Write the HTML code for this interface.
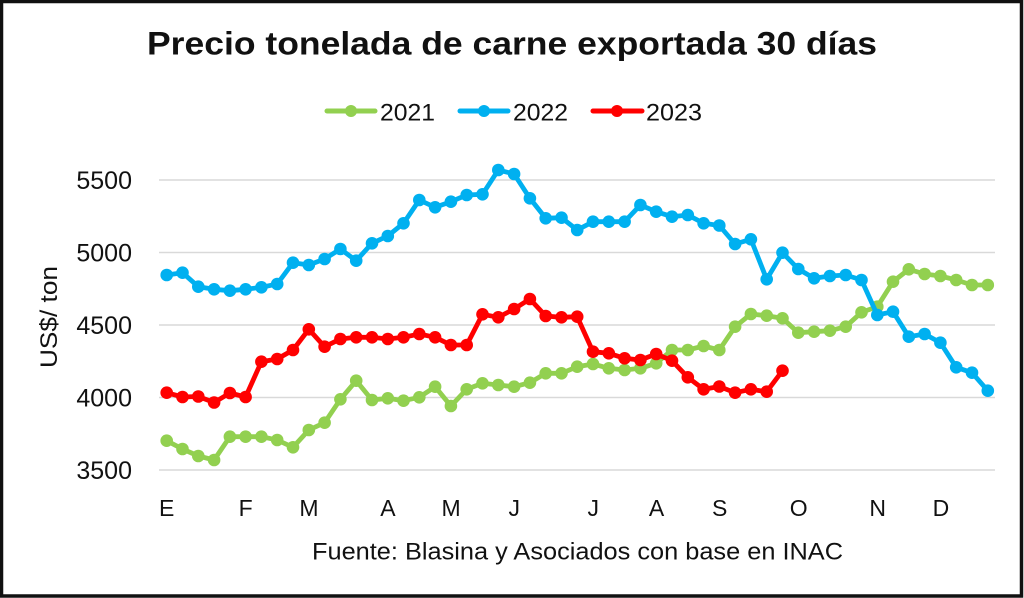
<!DOCTYPE html>
<html>
<head>
<meta charset="utf-8">
<style>
html,body{margin:0;padding:0;background:#fff;}
body{width:1024px;height:598px;overflow:hidden;}
svg{display:block;}
text{font-family:"Liberation Sans",sans-serif;fill:#111;}
</style>
</head>
<body>
<svg width="1024" height="598" viewBox="0 0 1024 598" xmlns="http://www.w3.org/2000/svg">
<rect x="0" y="0" width="1024" height="598" fill="#fff"/>
<!-- border -->
<rect x="1.5" y="1.5" width="1020" height="594.5" fill="none" stroke="#111" stroke-width="3.5"/>

<!-- title -->
<text x="147" y="54.5" font-size="32" font-weight="bold" textLength="730" lengthAdjust="spacingAndGlyphs">Precio tonelada de carne exportada 30 días</text>

<!-- legend -->
<g stroke-width="5" stroke-linecap="round">
<line x1="327" y1="111" x2="375" y2="111" stroke="#92D050"/>
<circle cx="351" cy="111" r="6" fill="#92D050" stroke="none"/>
<line x1="460" y1="111" x2="508" y2="111" stroke="#00B0F0"/>
<circle cx="484" cy="111" r="6" fill="#00B0F0" stroke="none"/>
<line x1="593" y1="111" x2="642" y2="111" stroke="#FF0000"/>
<circle cx="617" cy="111" r="6" fill="#FF0000" stroke="none"/>
</g>
<text x="380" y="120.5" font-size="24" textLength="55" lengthAdjust="spacingAndGlyphs">2021</text>
<text x="513" y="120.5" font-size="24" textLength="55" lengthAdjust="spacingAndGlyphs">2022</text>
<text x="646" y="120.5" font-size="24" textLength="56" lengthAdjust="spacingAndGlyphs">2023</text>

<!-- gridlines -->
<g stroke="#D9D9D9" stroke-width="1.5">
<line x1="159" y1="180" x2="995" y2="180"/>
<line x1="159" y1="252.5" x2="995" y2="252.5"/>
<line x1="159" y1="325" x2="995" y2="325"/>
<line x1="159" y1="397.5" x2="995" y2="397.5"/>
<line x1="159" y1="470" x2="995" y2="470"/>
</g>

<!-- y tick labels -->
<g font-size="25" text-anchor="end">
<text x="132" y="189">5500</text>
<text x="132" y="261.5">5000</text>
<text x="132" y="334">4500</text>
<text x="132" y="406.5">4000</text>
<text x="132" y="479">3500</text>
</g>

<!-- y axis title -->
<text transform="translate(57,317) rotate(-90)" font-size="24" text-anchor="middle" textLength="102" lengthAdjust="spacingAndGlyphs">US$/ ton</text>

<!-- x labels -->
<g font-size="23" text-anchor="middle">
<text x="166.7" y="516">E</text>
<text x="245.7" y="516">F</text>
<text x="308.9" y="516">M</text>
<text x="387.9" y="516">A</text>
<text x="451.1" y="516">M</text>
<text x="514.3" y="516">J</text>
<text x="593.3" y="516">J</text>
<text x="656.5" y="516">A</text>
<text x="719.7" y="516">S</text>
<text x="798.7" y="516">O</text>
<text x="877.7" y="516">N</text>
<text x="940.9" y="516">D</text>
</g>

<!-- footer -->
<text x="312" y="559.5" font-size="24" textLength="531" lengthAdjust="spacingAndGlyphs">Fuente: Blasina y Asociados con base en INAC</text>

<g id="series"></g>
</svg>
<script>
(function(){
var g=[440.7,449,456,460,436.7,436.7,436.7,440,447.3,430,422.7,399.3,380.7,400,398.3,400.7,397.3,386.7,406,389.3,383.3,385,386.7,382.7,373.3,373.3,366.7,364,368.3,370,368.3,363.3,350,350,346,350,326.7,314,315.7,318.3,332.7,331.7,330.7,326.7,312.3,306.7,281.7,269.3,274,276,280,285,285];
var b=[275,272.7,286.7,289.3,290.7,289.3,287.3,284,262.7,265,259,249,260.7,243.3,236,223.3,200,207.3,201.7,195,194.3,170,174,198.3,218.3,217.7,230,221.7,221.7,221.7,205,211.7,216.7,215,223.3,225.5,244,239.3,279.3,252.7,269,278.3,276,275,280,315,311.7,336.7,334,342.7,367.3,372.7,390.7];
var r=[392.7,397,396.5,402.5,393,397,361.7,359,350,329.3,346.7,339,337.3,337.3,339,337.3,334,337.3,345,345,314.3,317.3,309,299,316,317.3,316.7,351.7,353.3,358.3,360,354,360.7,377.3,389.3,386.5,392.7,389.3,391.7,370.7];
var ns="http://www.w3.org/2000/svg";
var parent=document.getElementById("series");
function draw(d,c){
  var pts=d.map(function(y,i){return (166.7+15.79*i).toFixed(1)+","+y;}).join(" ");
  var pl=document.createElementNS(ns,"polyline");
  pl.setAttribute("points",pts);pl.setAttribute("fill","none");pl.setAttribute("stroke",c);
  pl.setAttribute("stroke-width","4.8");pl.setAttribute("stroke-linejoin","round");pl.setAttribute("stroke-linecap","round");
  parent.appendChild(pl);
  d.forEach(function(y,i){
    var ci=document.createElementNS(ns,"circle");
    ci.setAttribute("cx",(166.7+15.79*i).toFixed(1));ci.setAttribute("cy",y);ci.setAttribute("r","6.3");ci.setAttribute("fill",c);
    parent.appendChild(ci);
  });
}
draw(g,"#92D050");
draw(b,"#00B0F0");
draw(r,"#FF0000");
})();
</script>
</body>
</html>
